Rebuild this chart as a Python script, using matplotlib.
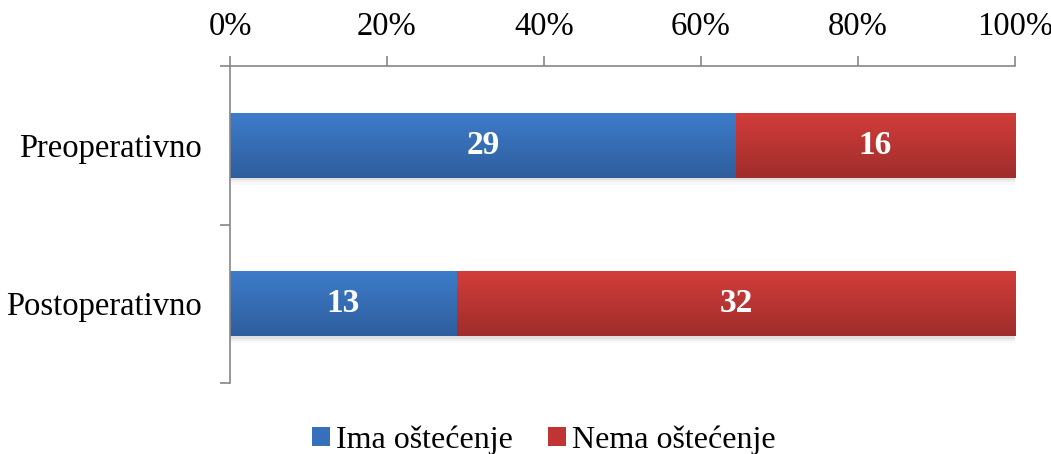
import matplotlib
matplotlib.use("Agg")
import matplotlib.pyplot as plt
import numpy as np
from matplotlib.colors import LinearSegmentedColormap
from matplotlib.patches import Patch

categories = ["Preoperativno", "Postoperativno"]
ima = [29, 13]
nema = [16, 32]
series_names = ["Ima oštećenje", "Nema oštećenje"]
xticks = [0, 20, 40, 60, 80, 100]
xtick_labels = ["0%", "20%", "40%", "60%", "80%", "100%"]

plt.rcParams['font.family'] = ['Liberation Serif', 'DejaVu Serif']
FS = 23.5

fig = plt.figure(figsize=(10.51, 4.54), dpi=100)
ax = fig.add_axes([230/1051, 1-383/454, (1015-230)/1051, (383-66)/454])

totals = [a + b for a, b in zip(ima, nema)]
ima_pct = [100*a/t for a, t in zip(ima, totals)]
nema_pct = [100*b/t for b, t in zip(nema, totals)]
y = np.arange(len(categories))
h = 0.41

blue_cmap = LinearSegmentedColormap.from_list("b", ["#3D7CCA", "#2F5E9D"])
red_cmap = LinearSegmentedColormap.from_list("r", ["#D23D3A", "#9F2D2B"])
grad = np.linspace(0, 1, 256).reshape(-1, 1)

def gradient_bars(bars, cmap):
    for b in bars:
        x0, y0 = b.get_x(), b.get_y()
        w, hh = b.get_width(), b.get_height()
        im = ax.imshow(grad, cmap=cmap, aspect="auto", extent=(x0, x0 + w, y0 + hh, y0),
                       zorder=2, interpolation="bicubic")
        im.set_clip_path(b)

# soft shadows under bars
for k, a in zip([0.015, 0.03, 0.045], [0.06, 0.04, 0.025]):
    ax.barh(y + k, [100]*len(y), height=h, color="#000000", alpha=a, linewidth=0, zorder=1)

b1 = ax.barh(y, ima_pct, height=h, color="#3A76C0", linewidth=0, zorder=2)
b2 = ax.barh(y, nema_pct, left=ima_pct, height=h, color="#C93A38", linewidth=0, zorder=2)
gradient_bars(b1, blue_cmap)
gradient_bars(b2, red_cmap)

for i in range(len(y)):
    ax.text(ima_pct[i]/2, y[i], str(ima[i]), ha="center", va="center", color="white",
            fontsize=24, fontweight="bold", zorder=5)
    ax.text(ima_pct[i] + nema_pct[i]/2, y[i], str(nema[i]), ha="center", va="center",
            color="white", fontsize=24, fontweight="bold", zorder=5)

ax.set_xlim(0, 100)
ax.set_ylim(1.5, -0.5)
ax.xaxis.tick_top()
ax.set_xticks(xticks)
ax.set_xticklabels(xtick_labels, fontsize=FS)
ax.tick_params(axis="x", direction="out", length=7, width=1.2, color="#868686", pad=10)

ax.set_yticks(y)
ax.set_yticklabels(categories, fontsize=FS)
ax.tick_params(axis="y", which="major", length=0, pad=20)
ax.set_yticks([-0.5, 0.5, 1.5], minor=True)
ax.tick_params(axis="y", which="minor", direction="out", length=7, width=1.2, color="#868686")

for s in ["right", "bottom"]:
    ax.spines[s].set_visible(False)
for s in ["left", "top"]:
    ax.spines[s].set_color("#868686")
    ax.spines[s].set_linewidth(1.2)

handles = [Patch(facecolor="#3670BA", edgecolor="none"), Patch(facecolor="#BE3533", edgecolor="none")]
fig.legend(handles, series_names, loc="center", bbox_to_anchor=(544/1051, 1-440/454), ncol=2,
           frameon=False, fontsize=23, handlelength=0.55, handleheight=0.55, handletextpad=0.2,
           columnspacing=1.1)

fig.savefig("out.png", dpi=100)
